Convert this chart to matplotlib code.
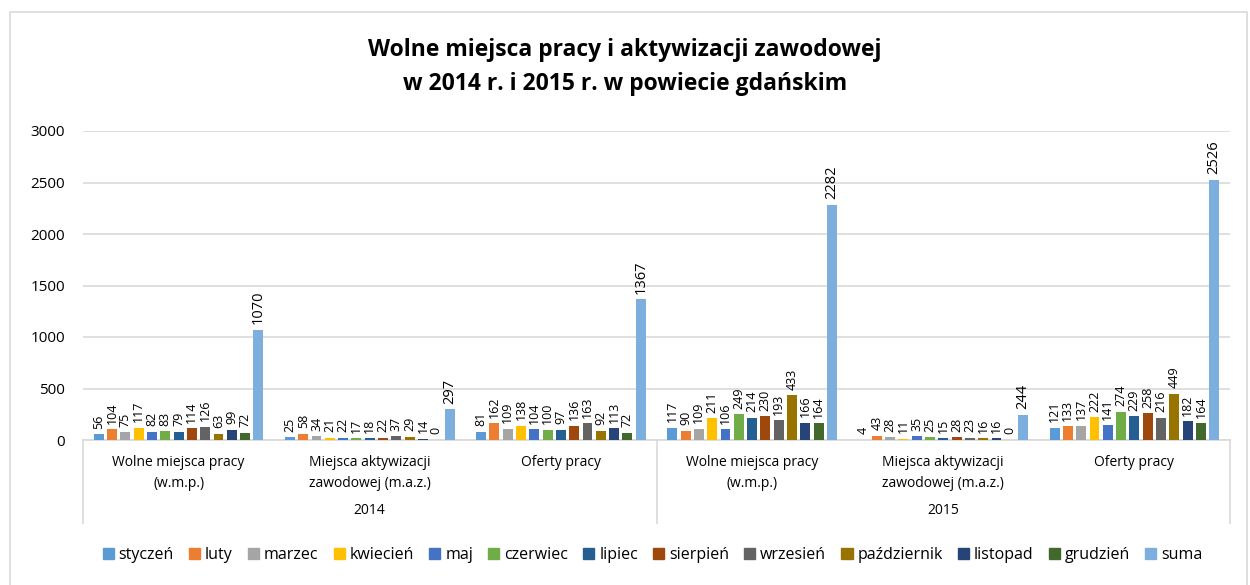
import matplotlib
matplotlib.use("Agg")
import matplotlib.pyplot as plt
import matplotlib.transforms as mtransforms
from matplotlib.patches import Rectangle, Patch
import numpy as np

plt.rcParams['font.family'] = ['Open Sans', 'DejaVu Sans']

months = ["styczeń", "luty", "marzec", "kwiecień", "maj", "czerwiec", "lipiec",
          "sierpień", "wrzesień", "październik", "listopad", "grudzień", "suma"]
colors = ["#5B9BD5", "#ED7D31", "#A5A5A5", "#FFC000", "#4472C4", "#70AD47", "#255E91",
          "#9E480E", "#636363", "#997300", "#264478", "#43682B", "#7CAFDD"]

categories = ["Wolne miejsca pracy\n(w.m.p.)", "Miejsca aktywizacji\nzawodowej (m.a.z.)", "Oferty pracy"] * 2
years = ["2014", "2015"]

wmp_2014 = [56, 104, 75, 117, 82, 83, 79, 114, 126, 63, 99, 72, 1070]
maz_2014 = [25, 58, 34, 21, 22, 17, 18, 22, 37, 29, 14, 0, 297]
of_2014 = [81, 162, 109, 138, 104, 100, 97, 136, 163, 92, 113, 72, 1367]
wmp_2015 = [117, 90, 109, 211, 106, 249, 214, 230, 193, 433, 166, 164, 2282]
maz_2015 = [4, 43, 28, 11, 35, 25, 15, 28, 23, 16, 16, 0, 244]
of_2015 = [121, 133, 137, 222, 141, 274, 229, 258, 216, 449, 182, 164, 2526]

groups = [wmp_2014, maz_2014, of_2014, wmp_2015, maz_2015, of_2015]

fig = plt.figure(figsize=(12.5, 5.85), dpi=100)
ax = fig.add_axes([83 / 1250, 145 / 585, 1147 / 1250, 309 / 585])

# chart border
fig.patches.append(Rectangle((10 / 1250, -0.01), 1237 / 1250, 1 - 12 / 585 + 0.01,
                             transform=fig.transFigure, fill=False,
                             edgecolor="#D9D9D9", linewidth=1.2))

step = 0.0696
width = 0.052
for g, vals in enumerate(groups):
    for j, v in enumerate(vals):
        x = g + 0.5 + (j - 6) * step
        ax.bar(x, v, width=width, color=colors[j], zorder=3)
        fs = 10.5 if j == 12 else 9
        ax.annotate(str(v), (x, v), xytext=(0, 4), textcoords="offset points",
                    rotation=90, ha="center", va="bottom", fontsize=fs)

ax.set_xlim(0, 6)
ax.set_ylim(0, 3000)
ax.set_yticks(np.arange(0, 3001, 500))
ax.tick_params(axis="y", length=0, pad=13, labelsize=11)
ax.set_xticks([])
ax.grid(axis="y", color="#D9D9D9", linewidth=1.2, zorder=0)
for s in ["top", "right", "left"]:
    ax.spines[s].set_visible(False)
ax.spines["bottom"].set_color("#D9D9D9")
ax.spines["bottom"].set_linewidth(1.2)

trans = mtransforms.blended_transform_factory(ax.transData, ax.transAxes)
for g, cat in enumerate(categories):
    ax.text(g + 0.5, -0.05, cat, transform=trans, ha="center", va="top",
            fontsize=10, linespacing=1.5)
for i, yr in enumerate(years):
    ax.text(i * 3 + 1.5, -0.227, yr, transform=trans, ha="center", va="center",
            fontsize=10)
for xv in [0, 3, 6]:
    ax.plot([xv, xv], [0, -0.269], transform=trans, color="#D9D9D9",
            linewidth=1.2, clip_on=False)

fig.text(0.5, 1 - 67 / 585, "Wolne miejsca pracy i aktywizacji zawodowej\nw 2014 r. i 2015 r. w powiecie gdańskim",
         ha="center", va="center", fontsize=16.5, fontweight="bold", linespacing=1.55)

handles = [Patch(color=c) for c in colors]
fig.legend(handles, months, loc="center", bbox_to_anchor=(0.522, 1 - 555 / 585),
           ncol=13, frameon=False, fontsize=11.5, handlelength=0.7, handleheight=0.7,
           handletextpad=0.3, columnspacing=0.95)

plt.savefig("out.png", dpi=100)
